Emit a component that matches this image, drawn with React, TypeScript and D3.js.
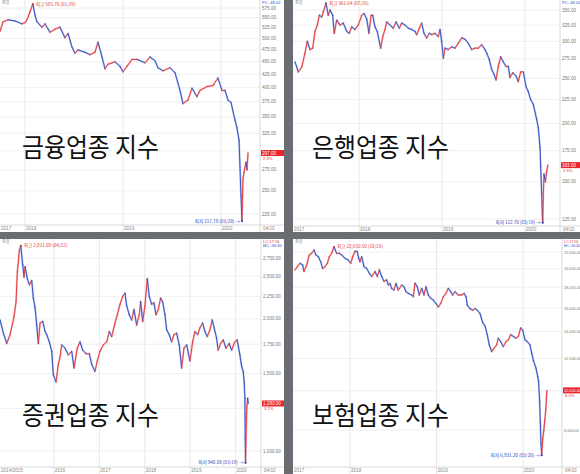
import React from "react";
import * as d3 from "d3";

// ---------- Panel 1: 금융업종 지수 ----------
const times1 = [2017.745, 2017.776, 2017.827, 2017.898, 2017.969, 2018.0, 2018.02, 2018.051, 2018.08, 2018.102, 2018.122, 2018.173, 2018.204, 2018.255, 2018.306, 2018.357, 2018.408, 2018.439, 2018.48, 2018.51, 2018.541, 2018.612, 2018.663, 2018.714, 2018.745, 2018.786, 2018.816, 2018.847, 2018.918, 2018.969, 2019.0, 2019.041, 2019.092, 2019.143, 2019.224, 2019.276, 2019.327, 2019.357, 2019.408, 2019.48, 2019.531, 2019.582, 2019.612, 2019.663, 2019.704, 2019.755, 2019.786, 2019.857, 2019.918, 2019.969, 2020.01, 2020.041, 2020.071, 2020.102, 2020.143, 2020.163, 2020.184, 2020.194, 2020.204, 2020.214, 2020.224, 2020.235, 2020.255, 2020.265, 2020.276];
const values1 = [517, 540, 545, 542, 535, 538, 545, 565, 585.7, 557, 540, 527, 535, 515, 522, 527, 502, 512, 481, 468, 475, 470, 465, 470, 492, 460, 436, 445, 450, 441, 430, 441, 455, 455, 448, 460, 452, 438, 432, 438, 428, 395, 372, 378, 399, 384, 395, 402, 404, 418, 395, 395, 378, 374, 345, 333, 315, 278, 245, 217.78, 264, 272, 285, 275, 297];
const ticks1 = [575, 550, 525, 500, 475, 450, 425, 400, 375, 350, 325, 300, 275, 250, 225];

// ---------- Panel 2: 은행업종 지수 ----------
const times2 = [2017.229, 2017.269, 2017.31, 2017.349, 2017.377, 2017.41, 2017.442, 2017.47, 2017.498, 2017.522, 2017.551, 2017.57, 2017.602, 2017.63, 2017.651, 2017.683, 2017.702, 2017.731, 2017.771, 2017.811, 2017.852, 2017.883, 2017.912, 2017.952, 2017.992, 2018.033, 2018.06, 2018.093, 2018.12, 2018.145, 2018.165, 2018.193, 2018.22, 2018.261, 2018.286, 2018.313, 2018.334, 2018.373, 2018.413, 2018.446, 2018.486, 2018.514, 2018.554, 2018.594, 2018.635, 2018.675, 2018.695, 2018.727, 2018.755, 2018.783, 2018.816, 2018.847, 2018.876, 2018.916, 2018.955, 2018.976, 2018.996, 2019.016, 2019.036, 2019.076, 2019.117, 2019.157, 2019.196, 2019.237, 2019.277, 2019.317, 2019.358, 2019.398, 2019.437, 2019.478, 2019.518, 2019.539, 2019.57, 2019.599, 2019.627, 2019.651, 2019.678, 2019.707, 2019.739, 2019.771, 2019.799, 2019.819, 2019.852, 2019.892, 2019.919, 2019.948, 2019.98, 2020.012, 2020.04, 2020.069, 2020.1, 2020.141, 2020.16, 2020.181, 2020.189, 2020.201, 2020.213, 2020.22, 2020.229, 2020.245, 2020.261, 2020.276];
const values2 = [271, 258, 264, 283, 300, 288, 290, 315, 325, 341, 338, 347, 361.64, 341, 350, 341, 312, 333, 325, 328, 315, 312, 322, 318, 325, 341, 344, 335, 312, 341, 341, 322, 315, 290, 307, 318, 330, 325, 320, 330, 320, 328, 325, 320, 318, 315, 310, 320, 328, 312, 305, 312, 310, 312, 307, 318, 300, 276, 290, 288, 292, 290, 297, 305, 303, 297, 288, 290, 290, 295, 288, 283, 274, 261, 255, 248, 265, 278, 271, 265, 265, 251, 257, 253, 246, 258, 258, 240, 234, 225, 220, 204, 196, 178, 162, 142, 122.7, 140, 156, 150, 158, 163];
const ticks2 = [350, 325, 300, 275, 250, 225, 200, 175, 150, 125];

// ---------- Panel 3: 증권업종 지수 ----------
const times3 = [2014.818, 2014.89, 2014.965, 2015.037, 2015.125, 2015.169, 2015.198, 2015.242, 2015.273, 2015.316, 2015.345, 2015.367, 2015.418, 2015.462, 2015.514, 2015.549, 2015.587, 2015.624, 2015.659, 2015.697, 2015.756, 2015.807, 2015.844, 2015.901, 2015.954, 2015.989, 2016.048, 2016.099, 2016.136, 2016.174, 2016.246, 2016.319, 2016.393, 2016.444, 2016.516, 2016.576, 2016.635, 2016.708, 2016.78, 2016.833, 2016.905, 2016.956, 2017.015, 2017.088, 2017.163, 2017.22, 2017.273, 2017.345, 2017.396, 2017.455, 2017.514, 2017.565, 2017.602, 2017.659, 2017.712, 2017.763, 2017.822, 2017.879, 2017.91, 2017.954, 2018.004, 2018.055, 2018.099, 2018.152, 2018.202, 2018.246, 2018.297, 2018.349, 2018.393, 2018.444, 2018.481, 2018.538, 2018.591, 2018.642, 2018.701, 2018.758, 2018.811, 2018.862, 2018.921, 2018.993, 2019.053, 2019.103, 2019.163, 2019.213, 2019.273, 2019.323, 2019.374, 2019.433, 2019.484, 2019.527, 2019.58, 2019.615, 2019.668, 2019.725, 2019.785, 2019.857, 2019.91, 2019.982, 2020.033, 2020.092, 2020.13, 2020.165, 2020.187, 2020.202, 2020.21, 2020.216, 2020.235, 2020.248, 2020.262, 2020.276];
const values3 = [1987, 1854, 1757, 1840, 2022, 2187, 2560, 2860, 2931, 2650, 2488, 2627, 2467, 2390, 2445, 2229, 2121, 1935, 1757, 1955, 1972, 1870, 1840, 1772, 1686, 1490, 1436, 1575, 1635, 1744, 1714, 1655, 1686, 1545, 1714, 1772, 1697, 1665, 1665, 1575, 1518, 1603, 1686, 1744, 1772, 1870, 1822, 1955, 2043, 2157, 2248, 2287, 2140, 2043, 1987, 2099, 1935, 2043, 2187, 1972, 2140, 2467, 2248, 2157, 2176, 2043, 2099, 2229, 2187, 2043, 1888, 1840, 1772, 1840, 1854, 1744, 1545, 1714, 1744, 1603, 1772, 1870, 1840, 1906, 1955, 1870, 1822, 1888, 1987, 1906, 1806, 1697, 1757, 1790, 1714, 1757, 1697, 1772, 1790, 1655, 1560, 1518, 1436, 1318, 1065, 940, 1174, 1270, 1318, 1283];
const ticks3 = [2750, 2500, 2250, 2000, 1750, 1500, 1250, 1000];

// ---------- Panel 4: 보험업종 지수 ----------
const times4 = [2017.364, 2017.391, 2017.422, 2017.453, 2017.468, 2017.499, 2017.529, 2017.557, 2017.584, 2017.607, 2017.634, 2017.661, 2017.684, 2017.711, 2017.738, 2017.761, 2017.788, 2017.815, 2017.846, 2017.876, 2017.904, 2017.942, 2017.98, 2018.008, 2018.031, 2018.058, 2018.084, 2018.101, 2018.116, 2018.135, 2018.162, 2018.193, 2018.223, 2018.251, 2018.289, 2018.316, 2018.339, 2018.366, 2018.393, 2018.424, 2018.443, 2018.462, 2018.482, 2018.509, 2018.532, 2018.558, 2018.598, 2018.624, 2018.647, 2018.674, 2018.713, 2018.732, 2018.751, 2018.778, 2018.801, 2018.829, 2018.855, 2018.879, 2018.905, 2018.933, 2018.963, 2018.994, 2019.021, 2019.049, 2019.079, 2019.11, 2019.136, 2019.164, 2019.187, 2019.214, 2019.252, 2019.291, 2019.318, 2019.341, 2019.356, 2019.387, 2019.418, 2019.445, 2019.472, 2019.503, 2019.534, 2019.561, 2019.587, 2019.61, 2019.638, 2019.665, 2019.696, 2019.714, 2019.742, 2019.772, 2019.803, 2019.83, 2019.858, 2019.888, 2019.919, 2019.946, 2019.973, 2019.997, 2020.023, 2020.05, 2020.081, 2020.101, 2020.12, 2020.15, 2020.17, 2020.18, 2020.192, 2020.2, 2020.208, 2020.216, 2020.228, 2020.24, 2020.252, 2020.264, 2020.276];
const values4 = [19867, 20240, 20630, 20430, 19680, 20430, 21630, 21840, 22250, 21630, 21420, 20810, 20040, 20240, 20630, 21420, 21840, 22650, 21840, 21840, 21630, 21220, 21020, 20630, 21420, 22100, 22040, 21220, 20810, 21420, 20240, 20040, 19500, 19150, 19680, 19150, 19867, 19150, 18620, 18780, 18230, 18400, 17890, 17720, 18400, 17720, 18230, 18060, 17560, 17390, 17230, 17070, 18430, 18060, 17230, 17890, 17230, 18060, 17230, 16910, 16740, 16420, 16100, 16420, 17070, 17390, 17890, 17560, 17230, 17560, 17230, 17230, 17390, 17070, 16260, 15950, 15800, 15950, 15800, 15500, 14730, 14450, 13750, 12980, 12490, 12730, 12980, 13480, 13220, 12850, 13220, 13350, 13750, 13620, 13480, 13620, 14290, 14100, 13340, 13220, 12980, 12370, 11880, 11370, 10850, 10550, 9460, 8355, 7390, 6931.2, 7610, 7970, 8450, 9000, 10020];
const ticks4 = [22000, 20000, 18000, 16000, 14000, 12000, 10000, 8000];

const titles = ["금융업종 지수", "은행업종 지수", "증권업종 지수", "보험업종 지수"];
const highLabels = ["최고 585.70 (01/29)", "최고 361.64 (07/26)", "최고 2,931.09 (04/22)", "최고 22,650.50 (10/26)"];
const lowLabels = ["최저 217.78 (03/20)", "최저 122.70 (03/19)", "최저 940.88 (03/19)", "최저 6,931.20 (03/20)"];
const startLabels = ["2017", "2017", "2014/2015", "2017"];
const endLabel = "04/10";
const pctLabels = ["2.5%", "2.5%", "3.2%", "6.0%"];

const RED = "#e2343a";
const BLUE = "#2c48c0";

type Cfg = {
  times: number[]; values: number[]; ticks: number[];
  rect: { x: number; y: number; w: number; h: number };
  axisX: number; plotBottom: number;
  xDomain: [number, number]; xRange: [number, number];
  yDomain: [number, number]; yRange: [number, number];
  years: number[]; title: string; titleX: number; titleY: number;
  high: string; low: string; start: string; pct: string; lc?: boolean; tickSize: number;
};

const cfgs: Cfg[] = [
  { times: times1, values: values1, ticks: ticks1, rect: { x: 0, y: 0, w: 284, h: 232 }, axisX: 260, plotBottom: 225,
    xDomain: [2018, 2020], xRange: [25, 221], yDomain: [575, 225], yRange: [8, 214], years: [2018, 2019, 2020],
    title: titles[0], titleX: 22, titleY: 157, high: highLabels[0], low: lowLabels[0], start: startLabels[0], pct: pctLabels[0], tickSize: 4.6 },
  { times: times2, values: values2, ticks: ticks2, rect: { x: 293, y: 0, w: 287, h: 232 }, axisX: 560, plotBottom: 226,
    xDomain: [2018, 2020], xRange: [359, 525], yDomain: [350, 125], yRange: [10, 219], years: [2018, 2019, 2020],
    title: titles[1], titleX: 312, titleY: 157, high: highLabels[1], low: lowLabels[1], start: startLabels[1], pct: pctLabels[1], tickSize: 4.6 },
  { times: times3, values: values3, ticks: ticks3, rect: { x: 0, y: 239, w: 284, h: 235 }, axisX: 261, plotBottom: 467,
    xDomain: [2017, 2020], xRange: [99.3, 235.7], yDomain: [2750, 1000], yRange: [258, 451], years: [2016, 2017, 2018, 2019, 2020],
    title: titles[2], titleX: 22, titleY: 425, high: highLabels[2], low: lowLabels[2], start: startLabels[2], pct: pctLabels[2], lc: true, tickSize: 4.6 },
  { times: times4, values: values4, ticks: ticks4, rect: { x: 293, y: 239, w: 287, h: 235 }, axisX: 562, plotBottom: 467,
    xDomain: [2018, 2020], xRange: [350, 523], yDomain: [22000, 8000], yRange: [252, 430], years: [2018, 2019, 2020],
    title: titles[3], titleX: 312, titleY: 425, high: highLabels[3], low: lowLabels[3], start: startLabels[3], pct: pctLabels[3], lc: true, tickSize: 3.8 },
];

const tickFont = "'Liberation Sans', Arial, sans-serif";
const krFont = "'Noto Sans CJK KR', 'Noto Sans', sans-serif";

function Panel({ c, id }: { c: Cfg; id: number }) {
  const x = d3.scaleLinear().domain(c.xDomain).range(c.xRange);
  const y = d3.scaleLog().domain(c.yDomain).range(c.yRange);
  const fmt = d3.format(",.2f");
  const pts = c.times.map((t, i) => [x(t), y(c.values[i])] as [number, number]);
  const segs = pts.slice(1).map((p, i) => ({ a: pts[i], b: p, up: c.values[i + 1] >= c.values[i] }));
  const hi = d3.maxIndex(c.values);
  const lo = d3.minIndex(c.values);
  const last = c.values[c.values.length - 1];
  const { rect } = c;
  const right = rect.x + rect.w;
  const tagY = y(last);
  const yearLabelY = c.plotBottom + 5;
  const smallSize = Math.min(4.1, c.tickSize - 0.3);
  const visibleTicks = c.ticks.filter((v) => Math.abs(y(v) - tagY) > 5 && Math.abs(y(v) - (tagY + 5)) > 4);
  return (
    <g>
      <rect x={rect.x} y={rect.y} width={rect.w} height={rect.h} fill="#fff" />
      <clipPath id={`clip${id}`}>
        <rect x={rect.x} y={rect.y} width={c.axisX - rect.x} height={c.plotBottom - rect.y} />
      </clipPath>
      {c.ticks.map((v) => (
        <line key={v} x1={rect.x} x2={c.axisX} y1={y(v)} y2={y(v)} stroke="#ececec" strokeWidth={0.8} />
      ))}
      {c.years.map((t) => (
        <line key={t} x1={x(t)} x2={x(t)} y1={rect.y} y2={rect.y + rect.h} stroke="#e2e2e2" strokeWidth={0.8} />
      ))}
      <line x1={rect.x} x2={right} y1={c.plotBottom} y2={c.plotBottom} stroke="#d0d0d0" strokeWidth={0.8} />
      <line x1={c.axisX} x2={c.axisX} y1={rect.y} y2={rect.y + rect.h} stroke="#cfcfcf" strokeWidth={0.8} />
      <g clipPath={`url(#clip${id})`}>
        {segs.map((s, i) => (
          <line key={"u" + i} x1={s.a[0]} y1={s.a[1]} x2={s.b[0]} y2={s.b[1]}
            stroke={s.up ? "#f4b4b4" : "#b4c2ee"} strokeWidth={1.9} strokeLinecap="round" />
        ))}
        {segs.map((s, i) => (
          <line key={"s" + i} x1={s.a[0]} y1={s.a[1]} x2={s.b[0]} y2={s.b[1]}
            stroke={s.up ? RED : BLUE} strokeWidth={0.9} strokeLinecap="round" />
        ))}
      </g>
      {visibleTicks.map((v) => (
        <text key={"t" + v} x={c.axisX + 2} y={y(v) + 1.5} fontSize={c.tickSize} fill="#777" fontFamily={tickFont}>
          {fmt(v)}
        </text>
      ))}
      {/* x labels */}
      <text x={rect.x + 1} y={yearLabelY} fontSize={4.6} fill="#888" fontFamily={tickFont}>{c.start}</text>
      {c.years.map((t) => (
        <text key={"y" + t} x={x(t) + 1} y={yearLabelY} fontSize={4.6} fill="#888" fontFamily={tickFont}>{t}</text>
      ))}
      <text x={c.axisX + 3} y={yearLabelY} fontSize={4.6} fill="#888" fontFamily={tickFont}>{endLabel}</text>
      {/* top labels */}
      <text x={rect.x + 2} y={rect.y + 3.5} fontSize={4} fill="#888" fontFamily={krFont}>종합</text>
      {c.lc ? (
        <>
          <text x={c.axisX + 2} y={rect.y + 4} fontSize={smallSize} fill={RED} fontFamily={tickFont}>LC:17.56</text>
          <text x={c.axisX + 2} y={rect.y + 8} fontSize={smallSize} fill={BLUE} fontFamily={tickFont}>HC:-56.30</text>
        </>
      ) : (
        <text x={c.axisX + 2} y={rect.y + 3.5} fontSize={smallSize} fill={BLUE} fontFamily={tickFont}>PC:-49.02</text>
      )}
      {/* high marker */}
      <circle cx={pts[hi][0]} cy={pts[hi][1]} r={1} fill={RED} />
      <text x={pts[hi][0] + 3} y={pts[hi][1] + 1.6} fontSize={4.6} fill={RED} fontFamily={krFont}>{c.high}</text>
      {/* low marker */}
      <circle cx={pts[lo][0]} cy={pts[lo][1]} r={1} fill={BLUE} />
      <text x={pts[lo][0] - 2} y={pts[lo][1] + 1.6} fontSize={4.6} fill={BLUE} textAnchor="end" fontFamily={krFont}>
        {c.low + " →"}
      </text>
      {/* price tag */}
      <rect x={c.axisX + 1} y={tagY - 3} width={right - c.axisX - 1} height={6} fill="#e8262b" />
      <text x={c.axisX + 2} y={tagY + 1.5} fontSize={c.tickSize} fill="#fff" fontFamily={tickFont}>{fmt(last)}</text>
      <text x={c.axisX + 3} y={tagY + 6.5} fontSize={4.2} fill={RED} fontFamily={tickFont}>{c.pct}</text>
      {/* title */}
      <text x={c.titleX} y={c.titleY} fontSize={26} fill="#111" fontFamily={krFont}
        textLength={137} lengthAdjust="spacingAndGlyphs">{c.title}</text>
    </g>
  );
}

export default function App() {
  return (
    <svg width={580} height={474} style={{ position: "absolute", left: 0, top: 0, display: "block" }}>
      <rect x={0} y={0} width={580} height={474} fill="#6a6e72" />
      {cfgs.map((c, i) => (
        <Panel key={i} c={c} id={i} />
      ))}
    </svg>
  );
}
